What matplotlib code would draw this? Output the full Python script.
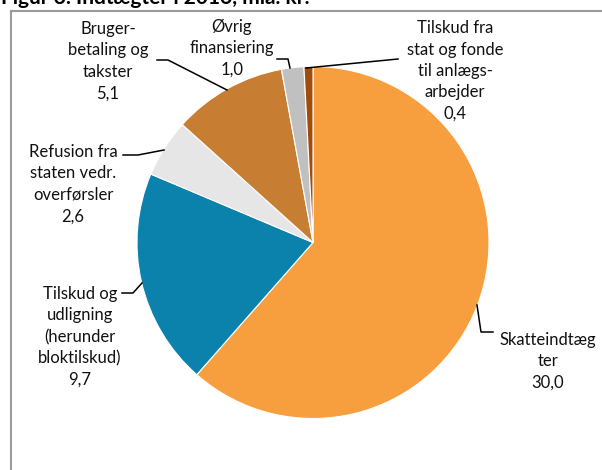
import matplotlib.pyplot as plt

plt.rcParams["font.family"] = ["Lato", "DejaVu Sans"]

# data (mia. kr.), clockwise from 12 o'clock
labels = [
    "Skatteindtæg\nter\n30,0",
    "Tilskud og\nudligning\n(herunder\nbloktilskud)\n9,7",
    "Refusion fra\nstaten vedr.\noverførsler\n2,6",
    "Bruger-\nbetaling og\ntakster\n5,1",
    "Øvrig\nfinansiering\n1,0",
    "Tilskud fra\nstat og fonde\ntil anlægs-\narbejder\n0,4",
]
values = [30.0, 9.7, 2.6, 5.1, 1.0, 0.4]
colors = ["#F79F3E", "#0A82AC", "#E6E6E6", "#C87E32", "#C0C0C0", "#A04D0C"]

# label centres and leader lines, in pixels from top-left
label_pos = [(548, 361), (80, 337), (73, 184), (108, 61), (232, 48), (455, 71)]
leaders = [
    [(477, 305), (481, 332), (493, 332)],
    [(122, 293), (133, 293), (142, 283)],
    [(123, 155), (138, 155), (164, 150)],
    [(157, 60), (168, 60), (227, 90)],
    [(277, 59), (288, 59), (290, 68)],
    [(398, 59), (306, 68)],
]

W, H = 602, 470
fig = plt.figure(figsize=(W / 100, H / 100), dpi=100)
ax = fig.add_axes([0, 0, 1, 1])
ax.set_xlim(0, W)
ax.set_ylim(0, H)
ax.axis("off")

ax.pie(values, colors=colors, startangle=90, counterclock=False,
       center=(313, H - 242.5), radius=176,
       wedgeprops=dict(edgecolor="white", linewidth=0.8))
ax.set_xlim(0, W)
ax.set_ylim(0, H)
ax.set_aspect("auto")

for txt, (x, y) in zip(labels, label_pos):
    ax.text(x, H - y, txt, ha="center", va="center", fontsize=12,
            color="#111111", linespacing=1.42)

for pts in leaders:
    ax.plot([p[0] for p in pts], [H - p[1] for p in pts], color="black", lw=1.1)

# chart border (cut off at right and bottom)
ax.plot([11, 11], [0, H - 11], color="#9a9a9a", lw=1.5)
ax.plot([11, W], [H - 11, H - 11], color="#9a9a9a", lw=1.5)

# title, mostly outside the crop
ax.text(1, H - 4, "Figur 3. Indtægter i 2016, mia. kr.", ha="left",
        va="baseline", fontsize=15, fontweight="bold", color="black")

fig.savefig("out.png", dpi=100)
